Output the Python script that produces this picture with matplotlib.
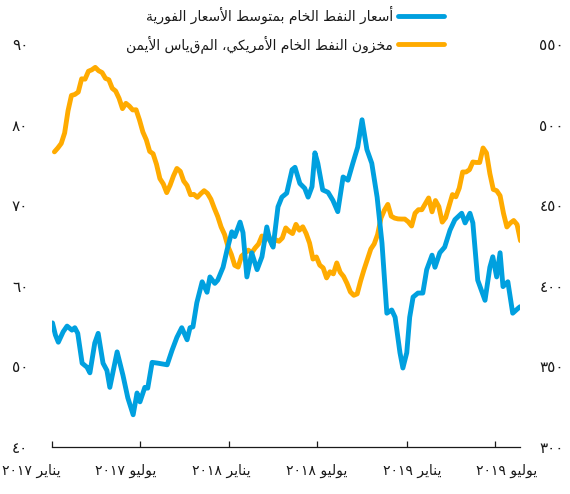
import re
import numpy as np
import pandas as pd
import matplotlib
matplotlib.use("Agg")
import matplotlib.pyplot as plt

# oil spot average price, USD/bbl (left axis)
oil_dates = [
    "2017-01-02", "2017-01-08", "2017-01-14", "2017-01-24", "2017-02-01", "2017-02-11",
    "2017-02-17", "2017-02-23", "2017-03-04", "2017-03-14", "2017-03-20", "2017-03-30",
    "2017-04-06", "2017-04-16", "2017-04-24", "2017-04-30", "2017-05-15", "2017-05-27",
    "2017-06-06", "2017-06-17", "2017-06-25", "2017-07-01", "2017-07-11", "2017-07-17",
    "2017-07-26", "2017-08-07", "2017-08-26", "2017-09-05", "2017-09-15", "2017-09-25",
    "2017-10-06", "2017-10-12", "2017-10-18", "2017-10-26", "2017-11-06", "2017-11-16",
    "2017-11-22", "2017-12-02", "2017-12-08", "2017-12-19", "2017-12-27", "2018-01-06",
    "2018-01-12", "2018-01-23", "2018-01-29", "2018-02-06", "2018-02-16", "2018-02-27",
    "2018-03-09", "2018-03-19", "2018-03-25", "2018-04-01", "2018-04-11", "2018-04-19",
    "2018-04-29", "2018-05-10", "2018-05-16", "2018-05-26", "2018-06-05", "2018-06-12",
    "2018-06-20", "2018-06-26", "2018-07-02", "2018-07-12", "2018-07-23", "2018-08-02",
    "2018-08-12", "2018-08-23", "2018-09-02", "2018-09-12", "2018-09-22", "2018-10-01",
    "2018-10-11", "2018-10-21", "2018-11-01", "2018-11-11", "2018-11-21", "2018-12-01",
    "2018-12-08", "2018-12-18", "2018-12-24", "2019-01-01", "2019-01-07", "2019-01-14",
    "2019-01-24", "2019-02-03", "2019-02-11", "2019-02-22", "2019-02-28", "2019-03-10",
    "2019-03-20", "2019-03-31", "2019-04-10", "2019-04-24", "2019-05-01", "2019-05-11",
    "2019-05-17", "2019-05-27", "2019-06-11", "2019-06-21", "2019-06-27", "2019-07-05",
    "2019-07-12", "2019-07-18", "2019-07-28", "2019-08-07", "2019-08-18", "2019-08-22",
]
oil_price = [
    55.4, 53.9, 53.0, 54.3, 55.0, 54.5,
    54.8, 54.1, 50.4, 49.9, 49.2, 52.9,
    54.1, 50.4, 49.5, 47.4, 51.8, 48.9,
    46.1, 44.0, 46.7, 45.6, 47.4, 47.3,
    50.5, 50.4, 50.2, 52.0, 53.6, 54.8,
    53.3, 54.8, 54.9, 57.9, 60.5, 59.2,
    61.1, 60.3, 60.7, 62.3, 64.4, 66.7,
    66.1, 67.9, 66.6, 61.1, 64.1, 62.0,
    63.6, 67.3, 65.7, 64.8, 69.8, 71.0,
    71.5, 74.4, 74.7, 72.7, 72.1, 71.0,
    72.3, 76.5, 75.2, 71.9, 71.6, 70.6,
    69.2, 73.5, 73.1, 75.2, 77.2, 80.6,
    76.9, 75.2, 71.0, 65.3, 56.6, 57.0,
    56.1, 51.7, 49.8, 51.7, 56.1, 58.6,
    59.1, 59.1, 62.0, 63.8, 62.3, 64.1,
    64.8, 66.9, 68.2, 69.0, 67.8, 69.0,
    67.8, 60.7, 58.2, 62.3, 63.6, 61.1,
    64.1, 59.9, 60.5, 56.6, 57.2, 57.4,
]

# US crude stocks, million bbl, weekly from 2017-01-06 (right axis)
stocks_start = "2017-01-06"
crude_stocks = [
    483.1, 485.5, 488.3, 494.8, 508.6, 518.1, 518.7, 520.2, 528.4, 528.2,
    533.1, 534.0, 535.5, 533.4, 532.3, 528.7, 527.8, 522.5, 520.8, 516.3,
    509.9, 513.2, 511.5, 509.1, 509.2, 502.9, 495.4, 490.6, 483.4, 481.9,
    475.4, 466.5, 463.2, 457.8, 462.4, 468.2, 472.8, 471.0, 465.0, 462.2,
    456.5, 456.7, 454.9, 457.1, 459.0, 457.3, 453.7, 448.1, 443.0, 436.5,
    431.9, 424.5,
    419.5, 412.7, 411.6, 418.4, 420.3, 422.1, 420.5, 423.5, 425.9, 430.9,
    428.3, 430.9, 425.3, 428.6, 427.6, 429.7, 435.9, 433.8, 432.4, 438.1,
    434.5, 436.6, 432.4, 426.5, 416.6, 417.9, 412.8, 411.1, 404.9, 408.7,
    407.4, 414.2, 408.4, 405.8, 401.5, 396.2, 394.1, 395.0, 403.0, 410.0,
    416.4, 422.8, 426.0, 431.8, 442.1, 446.9, 450.5, 443.2, 442.0, 441.5,
    441.4, 441.4,
    439.7, 437.1, 445.0, 447.2, 447.2, 450.8, 454.5, 445.9, 452.9, 449.1,
    439.5, 442.3, 449.5, 456.6, 455.2, 460.6, 470.6, 470.6, 472.0, 476.8,
    476.5, 476.5, 485.5, 482.4, 469.6, 459.8, 459.0, 455.9, 445.0, 436.5,
    438.9, 440.5, 438.0, 428.0,
]

tick_dates = ["2017-01-01", "2017-07-01", "2018-01-01", "2018-07-01", "2019-01-01", "2019-07-01"]
tick_labels = ["يناير ٢٠١٧", "يوليو ٢٠١٧", "يناير ٢٠١٨", "يوليو ٢٠١٨", "يناير ٢٠١٩", "يوليو ٢٠١٩"]
left_ticks = [40, 50, 60, 70, 80, 90]
right_ticks = [300, 350, 400, 450, 500, 550]
label_oil = "أسعار النفط الخام بمتوسط الأسعار الفورية"
label_stocks = "مخزون النفط الخام الأمريكي، المقياس الأيمن"

BLUE = "#00a0df"
ORANGE = "#ffab00"
INK = "#1a1a1a"

# matplotlib 3.10 does no Arabic shaping, so pick presentation forms by hand
FORMS = {
    # isolated, final, initial, medial
    "ا": ("\uFE8D", "\uFE8E", None, None),
    "أ": ("\uFE83", "\uFE84", None, None),
    "ب": ("\uFE8F", "\uFE90", "\uFE91", "\uFE92"),
    "ة": ("\uFE93", "\uFE94", None, None),
    "ت": ("\uFE95", "\uFE96", "\uFE97", "\uFE98"),
    "خ": ("\uFEA5", "\uFEA6", "\uFEA7", "\uFEA8"),
    "ر": ("\uFEAD", "\uFEAE", None, None),
    "ز": ("\uFEAF", "\uFEB0", None, None),
    "س": ("\uFEB1", "\uFEB2", "\uFEB3", "\uFEB4"),
    "ط": ("\uFEC1", "\uFEC2", "\uFEC3", "\uFEC4"),
    "ع": ("\uFEC9", "\uFECA", "\uFECB", "\uFECC"),
    "ف": ("\uFED1", "\uFED2", "\uFED3", "\uFED4"),
    "ك": ("\uFED9", "\uFEDA", "\uFEDB", "\uFEDC"),
    "ل": ("\uFEDD", "\uFEDE", "\uFEDF", "\uFEE0"),
    "م": ("\uFEE1", "\uFEE2", "\uFEE3", "\uFEE4"),
    "ن": ("\uFEE5", "\uFEE6", "\uFEE7", "\uFEE8"),
    "و": ("\uFEED", "\uFEEE", None, None),
    "ي": ("\uFEF1", "\uFEF2", "\uFEF3", "\uFEF4"),
}
LAM_ALEF = {"ا": ("\uFEFB", "\uFEFC"), "أ": ("\uFEF7", "\uFEF8")}


def shape(text):
    def dual(c):
        return c in FORMS and FORMS[c][2] is not None

    out = []
    i = 0
    while i < len(text):
        c = text[i]
        if c not in FORMS:
            out.append(c)
            i += 1
            continue
        link_prev = i > 0 and dual(text[i - 1])
        nxt = text[i + 1] if i + 1 < len(text) else ""
        if c == "ل" and nxt in LAM_ALEF:
            out.append(LAM_ALEF[nxt][1 if link_prev else 0])
            i += 2
            continue
        link_next = dual(c) and nxt in FORMS
        iso, fin, ini, med = FORMS[c]
        if link_prev and link_next:
            out.append(med)
        elif link_prev:
            out.append(fin)
        elif link_next:
            out.append(ini)
        else:
            out.append(iso)
        i += 1
    vis = "".join(out)[::-1]
    # digits keep left-to-right order
    return re.sub(r"[\u0660-\u0669]+", lambda m: m.group(0)[::-1], vis)


def ar_num(v):
    return str(v).translate(str.maketrans("0123456789", "٠١٢٣٤٥٦٧٨٩"))


plt.rcParams["font.family"] = ["DejaVu Sans"]

oil_x = pd.to_datetime(oil_dates)
stocks_x = pd.date_range(stocks_start, periods=len(crude_stocks), freq="7D")

fig = plt.figure(figsize=(5.7, 4.94), dpi=100)
ax = fig.add_axes([52 / 570, 1 - 447 / 494, 468 / 570, 403 / 494])
ax2 = ax.twinx()

l1, = ax.plot(oil_x, oil_price, color=BLUE, lw=3.5, solid_joinstyle="round", solid_capstyle="round")
l2, = ax2.plot(stocks_x, crude_stocks, color=ORANGE, lw=3.5, solid_joinstyle="round", solid_capstyle="round")
ax.set_zorder(ax2.get_zorder() + 1)
ax.patch.set_visible(False)

ax.set_xlim(pd.Timestamp("2017-01-01"), pd.Timestamp("2019-08-22"))
ax.set_ylim(40, 90)
ax2.set_ylim(300, 550)

for a in (ax, ax2):
    for s in ("top", "left", "right"):
        a.spines[s].set_visible(False)
ax2.spines["bottom"].set_visible(False)
ax.spines["bottom"].set_color(INK)
ax.spines["bottom"].set_linewidth(0.9)

ax.set_yticks(left_ticks)
ax.set_yticklabels([ar_num(v) for v in left_ticks])
ax2.set_yticks(right_ticks)
ax2.set_yticklabels([ar_num(v) for v in right_ticks])
ax.tick_params(axis="y", length=0, pad=17, labelsize=11, labelcolor=INK)
ax2.tick_params(axis="y", length=0, pad=14, labelsize=11, labelcolor=INK)

# tick marks at the dates, labels spread a bit wider than the ticks
ax.set_xticks(pd.to_datetime(tick_dates))
ax.set_xticklabels([])
ax.tick_params(axis="x", direction="in", length=4, width=0.9, color=INK)
label_shift = [-21, -14, -8, -1, 5, 12]  # px
for d, lab, dx in zip(pd.to_datetime(tick_dates), tick_labels, label_shift):
    ax.annotate(shape(lab), xy=(d, 0), xycoords=("data", "axes fraction"),
                xytext=(dx * 0.72, -17), textcoords="offset points",
                ha="center", va="center", fontsize=10, color=INK)

leg = ax.legend([l1, l2], [shape(label_oil), shape(label_stocks)],
                loc="upper right", bbox_to_anchor=(445 / 570, 1 - 4 / 494), bbox_transform=fig.transFigure,
                markerfirst=False, frameon=False, fontsize=10, handlelength=3.3,
                handletextpad=0.35, labelspacing=0.8, borderpad=0.1, borderaxespad=0)
for t in leg.get_texts():
    t.set_color(INK)

fig.savefig("out.png", dpi=100)
